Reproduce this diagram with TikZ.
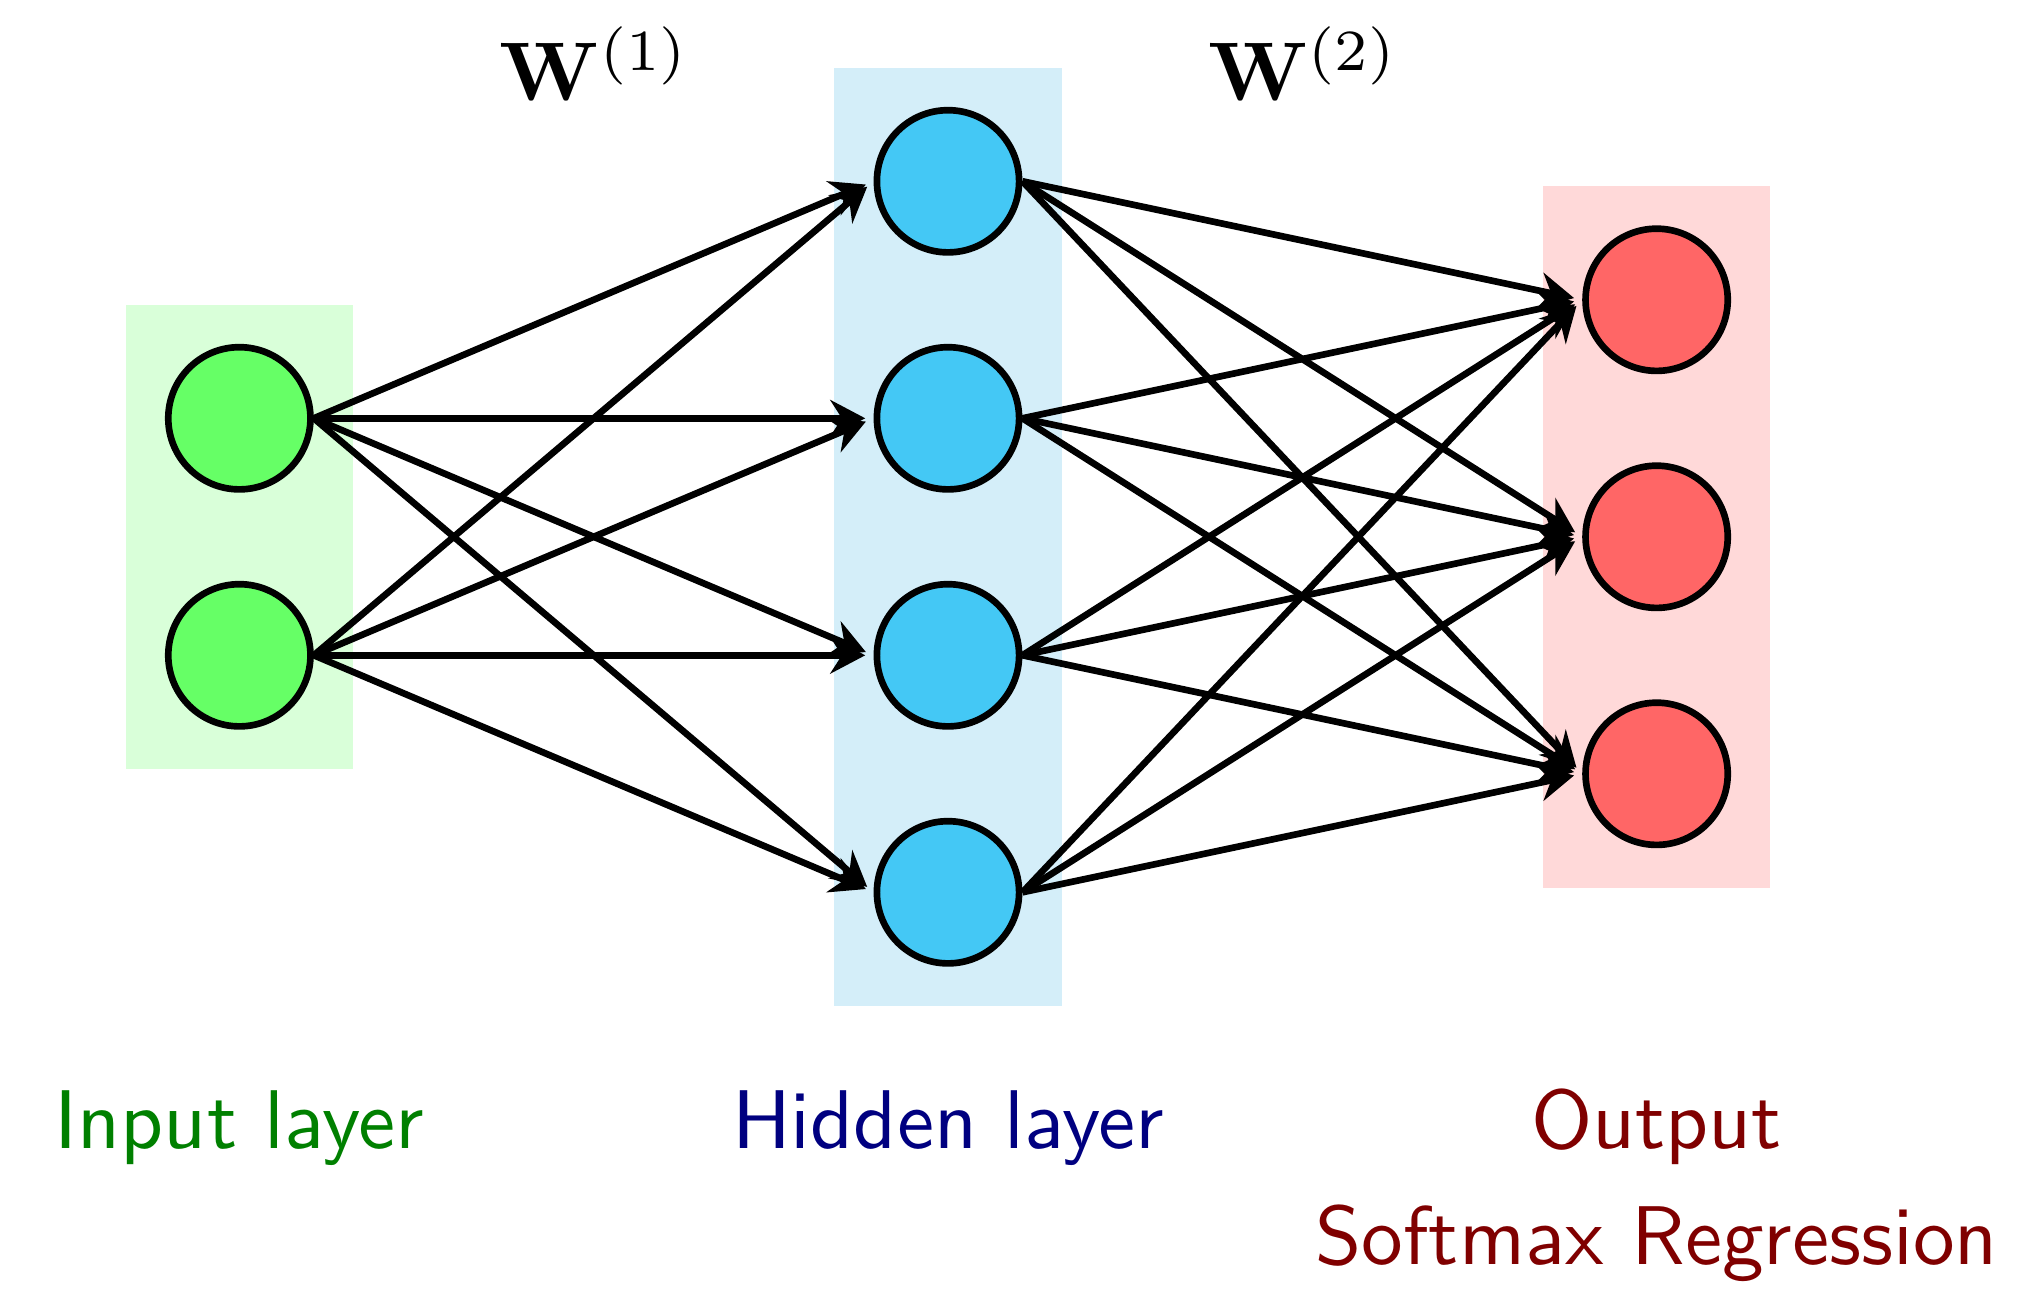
\documentclass[tikz,border=0pt]{standalone}
\usepackage{amsmath, amssymb}
\usepackage{tikz}
\usetikzlibrary{arrows.meta, positioning, fit, backgrounds}

\definecolor{hidblue}{RGB}{68,200,245}
\definecolor{hidbg}{RGB}{212,238,249}

\begin{document}
\begin{tikzpicture}[
    neuron/.style={circle, draw, thick, minimum size=0.6cm, inner sep=0pt},
    inneuron/.style={neuron, fill=green!60},
    hidneuron/.style={neuron, fill=hidblue},
    outneuron/.style={neuron, fill=red!60},
    layerbg/.style={inner sep=0.166cm},
    conn/.style={-{Stealth[length=4.2pt, width=4.4pt, inset=1.4pt]}, thick, shorten >=1pt},
    lbl/.style={font=\sffamily\fontsize{10}{12}\selectfont, anchor=base},
    wlbl/.style={font=\fontsize{9.6}{11}\selectfont, anchor=base}
]
\useasboundingbox (-0.01,-0.762) rectangle (8.53,4.765);

% Input layer
\node[inneuron] (in1) at (1,3) {};
\node[inneuron] (in2) at (1,2) {};

% Hidden layer
\node[hidneuron] (hid1) at (3.99,4) {};
\node[hidneuron] (hid2) at (3.99,3) {};
\node[hidneuron] (hid3) at (3.99,2) {};
\node[hidneuron] (hid4) at (3.99,1) {};

% Output layer
\node[outneuron] (out1) at (6.98,3.5) {};
\node[outneuron] (out2) at (6.98,2.5) {};
\node[outneuron] (out3) at (6.98,1.5) {};

% Layer backgrounds
\begin{scope}[on background layer]
\node[layerbg, fill=green!15, fit=(in1)(in2)] (inbg) {};
\node[layerbg, fill=hidbg, fit=(hid1)(hid4)] (hidbg) {};
\node[layerbg, fill=red!15, fit=(out1)(out3)] (outbg) {};
\end{scope}

% Weights W(1)
\draw[conn] (in1.east) -- (hid1.west);
\draw[conn] (in1.east) -- (hid2.west);
\draw[conn] (in1.east) -- (hid3.west);
\draw[conn] (in1.east) -- (hid4.west);
\draw[conn] (in2.east) -- (hid1.west);
\draw[conn] (in2.east) -- (hid2.west);
\draw[conn] (in2.east) -- (hid3.west);
\draw[conn] (in2.east) -- (hid4.west);

% Weights W(2)
\draw[conn] (hid1.east) -- (out1.west);
\draw[conn] (hid1.east) -- (out2.west);
\draw[conn] (hid1.east) -- (out3.west);
\draw[conn] (hid2.east) -- (out1.west);
\draw[conn] (hid2.east) -- (out2.west);
\draw[conn] (hid2.east) -- (out3.west);
\draw[conn] (hid3.east) -- (out1.west);
\draw[conn] (hid3.east) -- (out2.west);
\draw[conn] (hid3.east) -- (out3.west);
\draw[conn] (hid4.east) -- (out1.west);
\draw[conn] (hid4.east) -- (out2.west);
\draw[conn] (hid4.east) -- (out3.west);

% Labels
\node[wlbl] (w1) at (2.5,4.34) {$\mathbf{W}^{(1)}$};
\node[wlbl] (w2) at (5.49,4.34) {$\mathbf{W}^{(2)}$};
\node[lbl, text=green!50!black] (inlbl) at (1,-0.083) {Input layer};
\node[lbl, text=blue!50!black] (hidlbl) at (3.99,-0.083) {Hidden layer};
\node[lbl, text=red!50!black] (outlbl) at (6.98,-0.083) {Output};
\node[lbl, text=red!50!black] (smlbl) at (6.98,-0.572) {Softmax Regression};
\end{tikzpicture}
\end{document}
